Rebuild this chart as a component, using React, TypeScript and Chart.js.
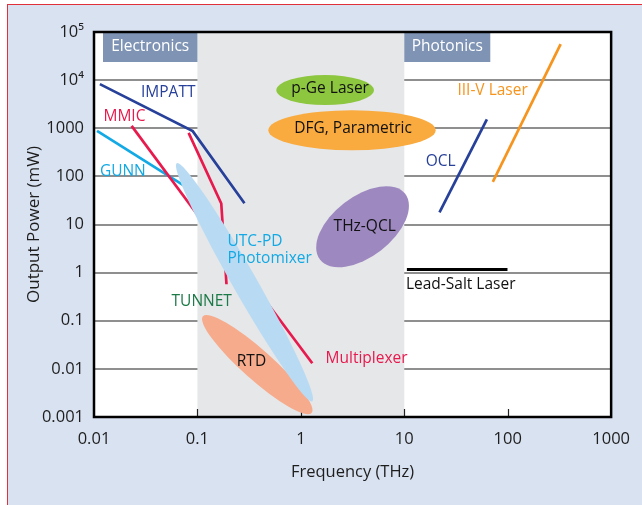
import React, { useEffect, useRef } from 'react';
import { Chart, registerables } from 'chart.js';

Chart.register(...registerables);

const FONT = '"Open Sans", "DejaVu Sans", sans-serif';

// ---- axes ----
const xTickValues = [0.01, 0.1, 1, 10, 100, 1000];
const xTickLabels = ['0.01', '0.1', '1', '10', '100', '1000'];
const yTickValues = [0.001, 0.01, 0.1, 1, 10, 100, 1000, 1e4, 1e5];
const yTickLabels = ['0.001', '0.01', '0.1', '1', '10', '100', '1000', '10⁴', '10⁵'];
const innerTickValues = [0.1, 1, 10, 100];

// shaded THz gap (frequency range)
const bandFrom = 0.1;
const bandTo = 10;

// ---- line series (THz, mW) ----
const impattX = [0.0114, 0.09, 0.285];
const impattY = [8260, 871, 27.7];
const mmicAX = [0.0231, 0.117];
const mmicAY = [1122, 10.1];
const mmicBX = [0.0822, 0.17, 0.191];
const mmicBY = [802, 27.3, 0.574];
const multiplexerX = [0.318, 1.29];
const multiplexerY = [0.73, 0.0131];
const gunnX = [0.0107, 0.084];
const gunnY = [883, 54.2];
const oclX = [21.9, 62.9];
const oclY = [17.8, 1524];
const iiivX = [71.8, 325];
const iiivY = [76.9, 56000];
const leadSaltX = [10.6, 99.5];
const leadSaltY = [1.16, 1.16];

// ---- regions drawn as ellipses: major-axis end points (THz, mW) ----
const regionNames = ['RTD', 'UTC-PD', 'THz-QCL', 'p-Ge', 'DFG'];
const regionX1 = [0.113, 0.063, 1.53, 0.579, 0.485];
const regionY1 = [0.124, 188, 1.87, 6200, 912];
const regionX2 = [1.27, 1.29, 10.2, 5.09, 20.1];
const regionY2 = [0.00121, 0.00212, 43.3, 6200, 912];

// ---- text labels (THz, mW) ----
const labelTexts = ['IMPATT', 'MMIC', 'GUNN', 'TUNNET', 'UTC-PD', 'Photomixer', 'RTD', 'Multiplexer', 'THz-QCL', 'p-Ge Laser', 'DFG, Parametric', 'III-V Laser', 'OCL', 'Lead-Salt Laser'];
const labelX = [0.0522, 0.0197, 0.019, 0.11, 0.195, 0.195, 0.333, 4.32, 4.14, 1.92, 3.2, 71.4, 22.5, 35.1];
const labelY = [5620, 1782, 128, 0.254, 4.4, 2.0, 0.0144, 0.0164, 9.22, 6710, 991, 6000, 200, 0.566];

// ---- styles ----
const DARK_BLUE = '#27409a';
const RED = '#e8194d';
const CYAN = '#12a9e4';
const ORANGE = '#f7941d';

const regionStyle: Record<string, { color: string; width: number }> = {
  'RTD': { color: '#f6ab8c', width: 30 },
  'UTC-PD': { color: '#b8dbf3', width: 24 },
  'THz-QCL': { color: '#9d88c0', width: 60 },
  'p-Ge': { color: '#8dc63f', width: 30 },
  'DFG': { color: '#f9ab3f', width: 40 },
};

const labelStyle: Record<string, { color: string; align: CanvasTextAlign }> = {
  'IMPATT': { color: DARK_BLUE, align: 'center' },
  'MMIC': { color: RED, align: 'center' },
  'GUNN': { color: CYAN, align: 'center' },
  'TUNNET': { color: '#1b7a47', align: 'center' },
  'UTC-PD': { color: CYAN, align: 'left' },
  'Photomixer': { color: CYAN, align: 'left' },
  'RTD': { color: '#111', align: 'center' },
  'Multiplexer': { color: RED, align: 'center' },
  'THz-QCL': { color: '#111', align: 'center' },
  'p-Ge Laser': { color: '#111', align: 'center' },
  'DFG, Parametric': { color: '#111', align: 'center' },
  'III-V Laser': { color: ORANGE, align: 'center' },
  'OCL': { color: DARK_BLUE, align: 'center' },
  'Lead-Salt Laser': { color: '#111', align: 'center' },
};

const pts = (xs: number[], ys: number[]) => xs.map((v, i) => ({ x: v, y: ys[i] }));
const line = (label: string, xs: number[], ys: number[], color: string, width = 2.7) => ({
  label,
  data: pts(xs, ys),
  borderColor: color,
  backgroundColor: color,
  borderWidth: width,
  showLine: true,
  pointRadius: 0,
  fill: false,
  tension: 0,
});

const overlayPlugin = {
  id: 'overlay',
  beforeDraw(chart: any) {
    const { ctx, chartArea: a } = chart;
    ctx.save();
    ctx.fillStyle = '#ffffff';
    ctx.fillRect(a.left, a.top, a.right - a.left, a.bottom - a.top);
    ctx.restore();
  },
  beforeDatasetsDraw(chart: any) {
    const { ctx, chartArea: a, scales } = chart;
    const x = scales.x;
    ctx.save();
    const bx1 = x.getPixelForValue(bandFrom);
    const bx2 = x.getPixelForValue(bandTo);
    ctx.fillStyle = '#e6e7e9';
    ctx.fillRect(bx1, a.top, bx2 - bx1, a.bottom - a.top);

    // category boxes
    const boxH = 30;
    ctx.fillStyle = '#7f94b4';
    ctx.fillRect(a.left + 9, a.top, bx1 - (a.left + 9), boxH);
    ctx.fillRect(bx2, a.top, 86, boxH);
    ctx.fillStyle = '#ffffff';
    ctx.font = `15.5px ${FONT}`;
    ctx.textAlign = 'center';
    ctx.textBaseline = 'middle';
    ctx.fillText('Electronics', (a.left + 9 + bx1) / 2, a.top + boxH / 2);
    ctx.fillText('Photonics', bx2 + 43, a.top + boxH / 2);

    // inward tick marks
    ctx.strokeStyle = '#222';
    ctx.lineWidth = 1.2;
    innerTickValues.forEach((v) => {
      const px = Math.round(x.getPixelForValue(v)) + 0.5;
      ctx.beginPath();
      ctx.moveTo(px, a.bottom);
      ctx.lineTo(px, a.bottom - 8);
      ctx.stroke();
    });

    // frame
    ctx.strokeStyle = '#000';
    ctx.lineWidth = 2.5;
    ctx.strokeRect(a.left, a.top, a.right - a.left, a.bottom - a.top);
    ctx.restore();
  },
  afterDatasetsDraw(chart: any) {
    const { ctx, chartArea: a, scales } = chart;
    const x = scales.x;
    const y = scales.y;
    ctx.save();
    ctx.beginPath();
    ctx.rect(a.left, a.top, a.right - a.left, a.bottom - a.top);
    ctx.clip();
    regionNames.forEach((name, i) => {
      const x1 = x.getPixelForValue(regionX1[i]);
      const y1 = y.getPixelForValue(regionY1[i]);
      const x2 = x.getPixelForValue(regionX2[i]);
      const y2 = y.getPixelForValue(regionY2[i]);
      const cx = (x1 + x2) / 2;
      const cy = (y1 + y2) / 2;
      const rx = Math.hypot(x2 - x1, y2 - y1) / 2;
      const ang = Math.atan2(y2 - y1, x2 - x1);
      const st = regionStyle[name];
      ctx.fillStyle = st.color;
      ctx.beginPath();
      ctx.ellipse(cx, cy, rx, st.width / 2, ang, 0, Math.PI * 2);
      ctx.fill();
    });
    ctx.restore();

    ctx.save();
    ctx.font = `15.5px ${FONT}`;
    ctx.textBaseline = 'middle';
    labelTexts.forEach((t, i) => {
      const st = labelStyle[t];
      ctx.fillStyle = st.color;
      ctx.textAlign = st.align;
      ctx.fillText(t, x.getPixelForValue(labelX[i]), y.getPixelForValue(labelY[i]));
    });
    ctx.restore();
  },
};

export default function App() {
  const canvasRef = useRef<HTMLCanvasElement | null>(null);

  useEffect(() => {
    if (!canvasRef.current) return;
    const chart = new Chart(canvasRef.current, {
      type: 'scatter',
      data: {
        datasets: [
          line('IMPATT', impattX, impattY, DARK_BLUE),
          line('MMIC A', mmicAX, mmicAY, RED),
          line('MMIC B', mmicBX, mmicBY, RED),
          line('Multiplexer', multiplexerX, multiplexerY, RED),
          line('GUNN', gunnX, gunnY, CYAN),
          line('OCL', oclX, oclY, DARK_BLUE),
          line('III-V Laser', iiivX, iiivY, ORANGE),
          line('Lead-Salt Laser', leadSaltX, leadSaltY, '#000', 3),
        ] as any,
      },
      options: {
        animation: false,
        responsive: false,
        devicePixelRatio: 1,
        layout: { padding: { left: 0, top: 32, right: 29, bottom: 0 } },
        plugins: { legend: { display: false }, tooltip: { enabled: false } },
        scales: {
          x: {
            type: 'logarithmic',
            position: 'bottom',
            min: 0.01,
            max: 1000,
            afterBuildTicks: (s: any) => {
              s.ticks = xTickValues.map((v) => ({ value: v }));
            },
            afterFit: (s: any) => {
              s.height = 88;
            },
            grid: { display: false, drawTicks: false },
            border: { display: false },
            ticks: {
              callback: (_v: any, i: number) => xTickLabels[i],
              color: '#1e1e1e',
              font: { family: FONT, size: 16.5 },
              padding: 12,
              maxRotation: 0,
              autoSkip: false,
            },
            title: {
              display: true,
              text: 'Frequency (THz)',
              color: '#1e1e1e',
              font: { family: FONT, size: 16.5 },
              padding: { top: 0, bottom: 23 },
            },
          },
          y: {
            type: 'logarithmic',
            position: 'left',
            min: 0.001,
            max: 1e5,
            afterBuildTicks: (s: any) => {
              s.ticks = yTickValues.map((v) => ({ value: v }));
            },
            afterFit: (s: any) => {
              s.width = 94;
            },
            grid: { color: '#8f8f8f', lineWidth: 2, drawTicks: false },
            border: { display: false },
            ticks: {
              callback: (_v: any, i: number) => yTickLabels[i],
              color: '#1e1e1e',
              font: { family: FONT, size: 16.5 },
              padding: 10,
              autoSkip: false,
            },
            title: {
              display: true,
              text: 'Output Power (mW)',
              color: '#1e1e1e',
              font: { family: FONT, size: 17 },
              padding: { top: 23.5, bottom: 0 },
            },
          },
        },
      } as any,
      plugins: [overlayPlugin],
    });
    return () => chart.destroy();
  }, []);

  return (
    <div style={{ position: 'fixed', left: 0, top: 0, width: 642, height: 505, background: '#ffffff', overflow: 'hidden' }}>
      <div
        style={{
          position: 'absolute',
          left: 7,
          top: 4,
          width: 660,
          height: 520,
          background: '#d9e2f1',
          borderLeft: '1px solid #e0303a',
          borderTop: '1px solid #e0303a',
        }}
      />
      <canvas ref={canvasRef} width={642} height={505} style={{ position: 'absolute', left: 0, top: 0 }} />
    </div>
  );
}
